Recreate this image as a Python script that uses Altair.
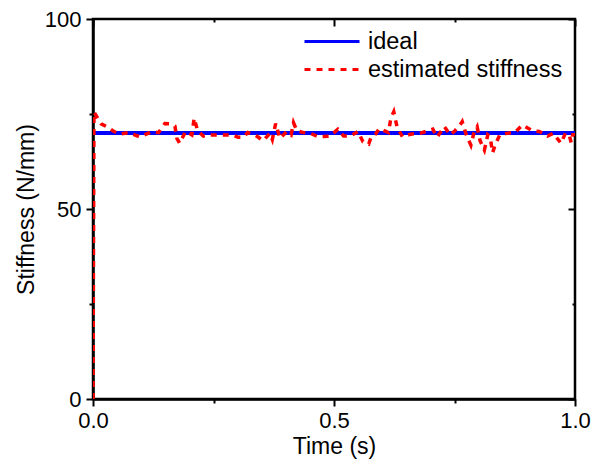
import altair as alt
import pandas as pd

# ---- data ----
series_names = ["ideal", "estimated stiffness"]

time_ideal = [0.0, 1.0]
stiff_ideal = [70.0, 70.0]

time_est = [0.0, 0.002, 0.017, 0.031, 0.041, 0.055, 0.073, 0.097, 0.114, 0.121,
            0.136, 0.149, 0.161, 0.170, 0.174, 0.180, 0.192, 0.205, 0.210, 0.217,
            0.229, 0.243, 0.260, 0.288, 0.301, 0.312, 0.321, 0.336, 0.353, 0.367,
            0.372, 0.379, 0.388, 0.402, 0.411, 0.416, 0.423, 0.437, 0.451, 0.468,
            0.492, 0.508, 0.520, 0.534, 0.550, 0.560, 0.572, 0.577, 0.586, 0.594,
            0.604, 0.613, 0.618, 0.624, 0.631, 0.642, 0.659, 0.678, 0.705, 0.714,
            0.729, 0.741, 0.751, 0.763, 0.766, 0.774, 0.784, 0.790, 0.797, 0.803,
            0.812, 0.819, 0.824, 0.829, 0.835, 0.844, 0.858, 0.876, 0.891, 0.912,
            0.926, 0.943, 0.955, 0.971, 0.980, 0.988, 0.992, 0.996, 1.000]
stiff_est = [0.0, 75.5, 72.4, 71.5, 70.6, 69.7, 70.1, 69.0, 69.9, 70.3,
             70.1, 72.5, 72.4, 71.8, 68.6, 67.3, 70.4, 69.5, 73.9, 70.6,
             69.2, 69.5, 69.5, 69.5, 68.9, 68.9, 70.1, 69.5, 68.0, 69.9,
             68.3, 72.5, 68.6, 70.4, 69.5, 72.7, 70.6, 70.1, 69.9, 69.0,
             69.2, 71.0, 69.2, 69.2, 70.4, 67.7, 67.1, 68.9, 69.7, 71.2,
             70.6, 70.1, 73.9, 75.6, 71.5, 69.0, 69.7, 69.9, 71.0, 68.9,
             71.7, 69.5, 70.6, 72.4, 73.0, 69.7, 66.8, 69.9, 71.6, 68.0,
             65.5, 69.5, 68.9, 64.8, 67.1, 69.5, 69.9, 70.2, 72.1, 70.6,
             70.4, 69.2, 69.9, 67.3, 69.9, 69.5, 67.5, 69.9, 68.0]

x_ticks = [0.0, 0.25, 0.5, 0.75, 1.0]
y_ticks = [0, 25, 50, 75, 100]

df_ideal = pd.DataFrame({"t": time_ideal, "k": stiff_ideal, "series": series_names[0]})
df_est = pd.DataFrame({"t": time_est, "k": stiff_est, "series": series_names[1]})

FONT = "Liberation Sans"
x_major = "datum.value == 0 || datum.value == 0.5 || datum.value == 1"
y_major = "datum.value % 50 === 0"

x_scale = alt.Scale(domain=[0, 1], nice=False, zero=False)
y_scale = alt.Scale(domain=[0, 100], nice=False, zero=False)

common_axis = dict(
    grid=False, domainColor="black", domainWidth=2.5, tickColor="black", tickWidth=2,
    labelColor="black", titleColor="black", labelFont=FONT, titleFont=FONT,
    labelFontSize=22, titleFontSize=23, titleFontWeight="normal",
    labelFlush=False, labelOverlap=False,
)

bottom_axis = alt.Axis(
    values=x_ticks, format=".1f", title="Time (s)",
    labelExpr=f"({x_major}) ? datum.label : ''",
    tickSize={"condition": {"test": x_major, "value": 7}, "value": 4},
    labelPadding=4, titlePadding=4, **common_axis,
)
left_axis = alt.Axis(
    values=y_ticks, format="d", title="Stiffness (N/mm)",
    labelExpr=f"({y_major}) ? datum.label : ''",
    tickSize={"condition": {"test": y_major, "value": 7}, "value": 4},
    labelPadding=5, titlePadding=6, **common_axis,
)
top_axis = alt.Axis(
    orient="top", values=x_ticks, labels=False, domain=False, title=None, offset=-7,
    tickSize=7, tickColor="black", tickWidth=2, grid=False,
    tickDash={"condition": {"test": x_major, "value": [7, 0]}, "value": [0, 4, 3, 10]},
)
right_axis = alt.Axis(
    orient="right", values=y_ticks, labels=False, domain=False, title=None, offset=-7,
    tickSize=7, tickColor="black", tickWidth=2, grid=False,
    tickDash={"condition": {"test": y_major, "value": [7, 0]}, "value": [0, 4, 3, 10]},
)

legend_props = dict(
    orient="none", legendX=210, legendY=11, title=None, padding=0,
    labelFont=FONT, labelFontSize=23.5, labelColor="black", labelLimit=400,
    symbolType="stroke", symbolSize=3025, symbolStrokeWidth=3, labelOffset=7,
    rowPadding=4, clipHeight=23,
)

color = alt.Color("series:N", scale=alt.Scale(domain=series_names, range=["#0000ff", "#ff0000"]),
                  legend=alt.Legend(**legend_props))
dash = alt.StrokeDash("series:N", scale=alt.Scale(domain=series_names, range=[[7, 0], [6, 6]]),
                      legend=alt.Legend(**legend_props))

blue = alt.Chart(df_ideal).mark_line(strokeWidth=4, clip=True).encode(
    x=alt.X("t:Q", scale=x_scale, axis=bottom_axis),
    y=alt.Y("k:Q", scale=y_scale, axis=left_axis),
    color=color, strokeDash=dash,
)
red = alt.Chart(df_est).mark_line(strokeWidth=3.5, clip=True).encode(
    x=alt.X("t:Q", scale=x_scale),
    y=alt.Y("k:Q", scale=y_scale),
    color=color, strokeDash=dash,
)
frame = alt.Chart(df_ideal).mark_point(opacity=0).encode(
    x=alt.X("t:Q", scale=x_scale, axis=top_axis),
    y=alt.Y("k:Q", scale=y_scale, axis=right_axis),
)

chart = alt.layer(alt.layer(blue, red), frame).resolve_scale(
    x="independent", y="independent"
).properties(
    width=482, height=380,
    padding={"left": 93, "top": 19, "right": 27, "bottom": 64},
    autosize=alt.AutoSizeParams(type="none"),
    background="white",
).configure_view(stroke="black", strokeWidth=2.5)

chart.save("out.html", embed_options={"renderer": "svg", "actions": False})
